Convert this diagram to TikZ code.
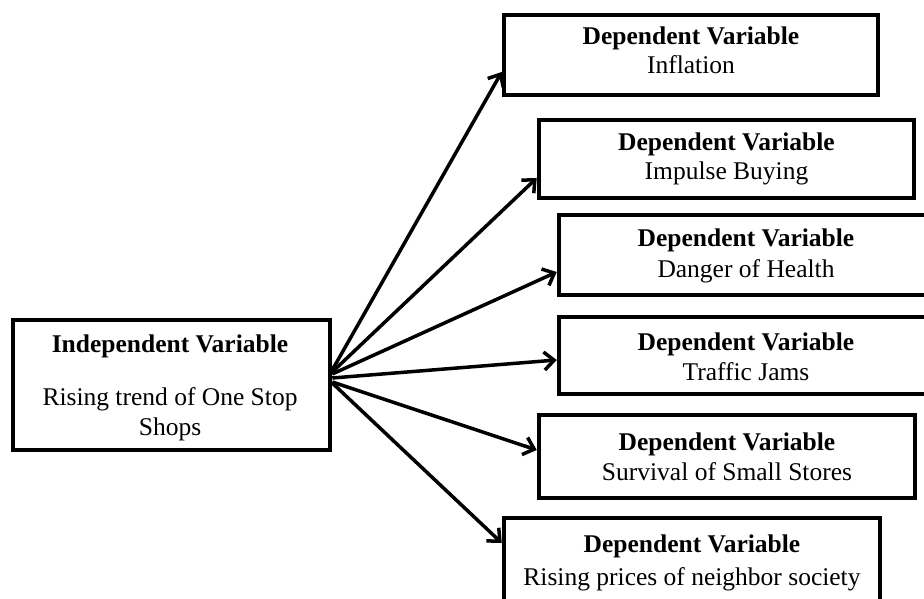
\documentclass[tikz,border=0pt]{standalone}
\usepackage{fontspec}
\setmainfont{Liberation Serif}
\usetikzlibrary{arrows.meta}
\begin{document}
\begin{tikzpicture}[x=1pt,y=-1pt,
  box/.style={draw=black,line width=4.5pt,rectangle,inner sep=0pt,fill=white},
  txt/.style={anchor=base,inner sep=0pt,font=\fontsize{25.5}{30}\selectfont},
  arr/.style={line width=3.5pt,-{Straight Barb[length=10pt,width=18pt]}}]
\useasboundingbox (0,0) rectangle (924,599);
\fill[white] (0,0) rectangle (924,599);
% boxes
\node[box,minimum width=317pt,minimum height=130pt] (ind) at (171.5,385) {};
\node[box,minimum width=374pt,minimum height=80pt] (d1) at (691,55) {};
\node[box,minimum width=375pt,minimum height=78pt] (d2) at (726.5,159) {};
\node[box,minimum width=374pt,minimum height=80pt] (d3) at (746,255) {};
\node[box,minimum width=374pt,minimum height=77pt] (d4) at (746,355.5) {};
\node[box,minimum width=376pt,minimum height=83pt] (d5) at (727,456.5) {};
\node[box,minimum width=376pt,minimum height=104pt] (d6) at (692,570) {};
% texts
\node[txt] (indt1) at (170,352) {\textbf{Independent Variable}};
\node[txt] (indt2) at (170,405) {Rising trend of One Stop};
\node[txt] (indt3) at (170,435) {Shops};
\node[txt] (d1a) at (691,45) {\textbf{Dependent Variable}};
\node[txt] (d1b) at (691,74) {Inflation};
\node[txt] (d2a) at (726.5,150) {\textbf{Dependent Variable}};
\node[txt] (d2b) at (726.5,179) {Impulse Buying};
\node[txt] (d3a) at (746,246) {\textbf{Dependent Variable}};
\node[txt] (d3b) at (746,277) {Danger of Health};
\node[txt] (d4a) at (746,350) {\textbf{Dependent Variable}};
\node[txt] (d4b) at (746,380) {Traffic Jams};
\node[txt] (d5a) at (727,450) {\textbf{Dependent Variable}};
\node[txt] (d5b) at (727,480) {Survival of Small Stores};
\node[txt] (d6a) at (692,552) {\textbf{Dependent Variable}};
\node[txt] (d6b) at (692,585) {Rising prices of neighbor society};
% arrows
\draw[arr] ([yshift=15pt]ind.east) -- ([yshift=-17pt]d1.west);
\draw[arr] ([yshift=13pt]ind.east) -- ([yshift=-19pt]d2.west);
\draw[arr] ([yshift=11pt]ind.east) -- ([yshift=-17pt]d3.west);
\draw[arr] ([yshift=7pt]ind.east) -- ([yshift=-4.5pt]d4.west);
\draw[arr] ([yshift=3pt]ind.east) -- ([yshift=6.5pt]d5.west);
\draw[arr] ([yshift=2pt]ind.east) -- ([yshift=27pt]d6.west);
\end{tikzpicture}
\end{document}
